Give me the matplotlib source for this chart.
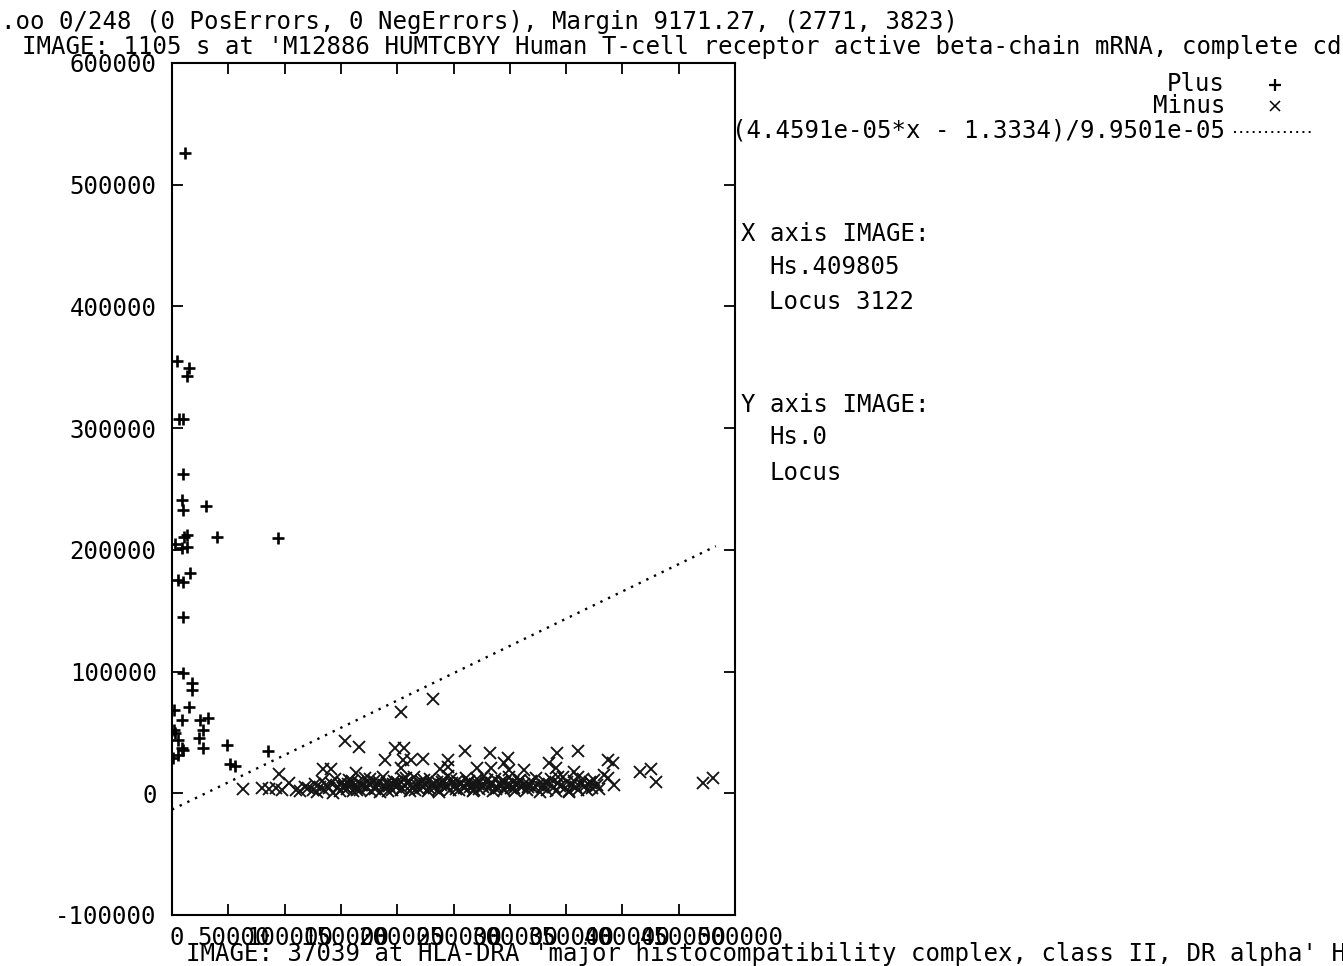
import matplotlib
matplotlib.use("Agg")
import matplotlib.pyplot as plt
import matplotlib.transforms as mtransforms
from matplotlib.lines import Line2D
import numpy as np

# ---------------- data ----------------
plus_x = [11566, 4448, 15125, 13345, 6228, 9787, 9787, 8897, 9787, 30249,
          13345, 10676, 2669, 13345, 8897, 40036, 94306, 16014, 9787, 5338,
          9787, 9787, 17794, 17794, 15125, 1779, 8897, 24911, 32029, 1779,
          2669, 27580, 5338, 8897, 9787, 24021, 27580, 890, 5338, 48932,
          85409, 51601, 56050]
plus_y = [526000, 355300, 349600, 343000, 307600, 307600, 262400, 240800, 232600, 235900,
          211800, 210400, 204700, 202200, 201400, 210400, 209600, 180800, 173400, 175100,
          144700, 98600, 90400, 84700, 70700, 68200, 60000, 60000, 61600, 51800,
          49300, 51800, 43600, 37000, 35300, 45200, 37000, 28800, 31200, 39500,
          34500, 23800, 22200]

minus_x_k = [
    # sparse left part
    63, 80, 86, 92, 95, 98, 104, 110, 114, 118, 121,
    # outliers above the band
    134, 141, 154, 166, 163, 189.5, 198, 206, 203, 203, 205, 212, 223, 232, 238, 245,
    245, 260, 271, 283, 282, 294.5, 298, 299, 313, 335, 341, 341.6, 342.5, 356.8, 360.3,
    361, 352.3, 330.1, 315.8, 372, 383.4, 387, 387, 392, 392.4, 416, 425, 430, 471.5, 480.4,
    # dense band, first pass
    125, 127, 129, 131, 133, 135, 137, 139, 141, 143, 145, 147, 149, 151, 153, 155, 157,
    159, 161, 163, 165, 167, 169, 171, 173, 175, 177, 179, 181, 183, 185, 187, 189, 191,
    193, 195, 197, 199, 201, 203, 205, 207, 209, 211, 213, 215, 217, 219, 221, 223, 225,
    227, 229, 231, 233, 235, 237, 239, 241, 243, 245, 247, 249, 251, 253, 255, 257, 259,
    261, 263, 265, 267, 269, 271, 273, 275, 277, 279, 281, 283, 285, 287, 289, 291, 293,
    295, 297, 299, 301, 303, 305, 307, 309, 311, 313, 315, 317, 319, 321, 323, 325, 327,
    329, 331, 333, 335, 337, 339, 341, 343, 345, 347, 349, 351, 353, 355, 357, 359, 361,
    363, 365, 367, 369, 371, 373, 375, 377, 379,
    # dense band, second pass
    152, 156, 160, 164, 168, 172, 176, 180, 184, 188, 192, 196, 200, 204, 208, 212, 216,
    220, 224, 228, 232, 236, 240, 244, 248, 252, 256, 260, 264, 268, 272, 276, 280, 284,
    288, 292, 296, 300, 304, 308,
]
minus_y_k = [
    3.3, 4.0, 3.5, 4.5, 15.6, 2.5, 8.5, 3.0, 2.0, 5.5, 4.0,
    19.7, 19.7, 42.7, 37.8, 16.4, 27.1, 37.0, 37.0, 66.6, 20.5, 27.1, 27.1, 28.0, 77.3, 19.7, 27.1,
    22.0, 34.5, 20.5, 20.5, 32.9, 24.7, 28.8, 18.9, 18.9, 24.7, 20.5, 32.9, 13.1, 17.3, 13.1,
    34.5, 0.8, 6.6, 4.9, 8.2, 14.8, 27.1, 12.3, 24.7, 6.6, 17.3, 19.7, 9.0, 8.2, 12.3,
    3.0, 7.5, 1.0, 5.5, 10.0, 2.5, 6.5, 4.0, 8.5, 0.5, 12.0, 5.0, 2.0, 9.0, 6.0, 3.5, 11.0,
    7.0, 1.5, 5.0, 9.5, 3.0, 6.5, 12.5, 4.5, 8.0, 2.0, 10.5, 5.5, 7.5, 1.0, 13.0, 4.0, 8.5,
    6.0, 2.5, 10.0, 5.0, 7.0, 3.0, 11.5, 6.0, 9.0, 1.5, 4.5, 13.5, 7.5, 3.5, 10.0, 5.5, 8.0,
    2.0, 12.0, 6.5, 4.0, 9.5, 1.0, 7.0, 11.0, 5.0, 14.0, 3.0, 8.5, 6.0, 10.5, 2.5, 7.5, 4.5,
    12.5, 9.0, 5.5, 1.5, 8.0, 11.5, 3.5, 6.5, 14.5, 9.5, 4.0, 7.0, 2.0, 12.0, 5.5, 8.5, 10.0,
    3.0, 6.0, 13.0, 4.5, 9.0, 1.5, 7.5, 11.0, 5.0, 8.0, 2.5, 6.5, 10.5, 4.0, 12.5, 7.0, 1.0,
    5.5, 9.0, 3.0, 7.5, 11.5, 5.0, 2.0, 8.5, 6.0, 13.0, 4.0, 9.5, 1.5, 7.0, 10.5, 5.5, 3.0,
    8.0, 12.0, 6.0, 2.5, 9.0, 4.5, 11.0, 7.0, 3.5,
    4.0, 8.0, 10.5, 2.5, 7.0, 5.0, 11.5, 3.5, 9.0, 6.5, 1.5, 7.5, 9.5, 4.5, 12.5, 6.5, 3.0,
    8.0, 11.0, 4.5, 7.5, 2.5, 9.5, 6.0, 12.0, 3.5, 8.5, 5.5, 10.5, 2.5, 7.5, 5.0, 11.0, 8.5,
    3.5, 6.0, 9.5, 7.0, 4.0, 10.0,
]
minus_x = [v * 1000 for v in minus_x_k]
minus_y = [v * 1000 for v in minus_y_k]

# decision line  (a*x - b)/c
line_a = 4.4591e-05
line_b = 1.3334
line_c = 9.9501e-05
line_x_range = [0, 483000]

xtick_vals = [0, 50000, 100000, 150000, 200000, 250000, 300000, 350000, 400000, 450000, 500000]
xtick_labels = ["0", "50000", "100000", "150000", "200000", "250000", "300000",
                "350000", "400000", "450000", "500000"]
ytick_vals = [-100000, 0, 100000, 200000, 300000, 400000, 500000, 600000]
ytick_labels = ["-100000", "0", "100000", "200000", "300000", "400000", "500000", "600000"]

title_line1 = ".oo 0/248 (0 PosErrors, 0 NegErrors), Margin 9171.27, (2771, 3823)"
title_line2 = "IMAGE: 1105 s at 'M12886 HUMTCBYY Human T-cell receptor active beta-chain mRNA, complete cds"
bottom_line = "IMAGE: 37039 at HLA-DRA 'major histocompatibility complex, class II, DR alpha' Homo sapiens"
legend_labels = ["Plus", "Minus", "(4.4591e-05*x - 1.3334)/9.9501e-05"]
side_texts = [("X axis IMAGE:", 0), ("Hs.409805", 1), ("Locus 3122", 1),
              ("Y axis IMAGE:", 0), ("Hs.0", 1), ("Locus", 1)]

# ---------------- figure ----------------
W, H = 1343, 966
FONT = "DejaVu Sans Mono"
FS = 17.3
plt.rcParams["font.family"] = [FONT, "DejaVu Sans"]

fig = plt.figure(figsize=(W / 100, H / 100), dpi=100)
fig.patch.set_facecolor("white")


def fx(px):
    return px / W


def fy(py):
    return 1 - py / H


L, R, T, B = 172, 735, 63, 915
ax = fig.add_axes([fx(L), fy(B), fx(R) - fx(L), fy(T) - fy(B)])
ax.set_xlim(0, 500000)
ax.set_ylim(-100000, 600000)

ax.plot(plus_x, plus_y, linestyle="none", marker="+", markersize=9,
        markeredgewidth=1.9, color="black")
ax.plot(minus_x, minus_y, linestyle="none", marker="x", markersize=8.5,
        markeredgewidth=1.35, color="#141414")

lx = np.array(line_x_range, dtype=float)
ly = (line_a * lx - line_b) / line_c
ax.plot(lx, ly, color="black", linewidth=1.7, linestyle=(0, (1.0, 2.6)))

for sp in ax.spines.values():
    sp.set_linewidth(1.5)
    sp.set_color("black")

ax.set_xticks(xtick_vals)
ax.set_yticks(ytick_vals, ytick_labels)
ax.tick_params(direction="in", length=8, width=1.3, top=True, right=True,
               labelbottom=False, labelsize=FS, pad=11)
for lab in ax.get_yticklabels():
    lab.set_fontfamily(FONT)

# x tick labels (centered a bit right of the tick, like the original)
xt = mtransforms.blended_transform_factory(ax.transData, fig.transFigure)
off = mtransforms.ScaledTranslation(5 / 100, 0, fig.dpi_scale_trans)
for v, s in zip(xtick_vals, xtick_labels):
    fig.text(v, fy(945), s, transform=xt + off, ha="center", va="baseline",
             fontsize=FS, family=FONT)

# titles
fig.text(fx(1), fy(29), title_line1, ha="left", va="baseline", fontsize=FS, family=FONT)
fig.text(fx(22), fy(54), title_line2, ha="left", va="baseline", fontsize=FS, family=FONT)
fig.text(fx(186), fy(961), bottom_line, ha="left", va="baseline", fontsize=FS, family=FONT)

# legend
leg_base = [91, 113, 138]
for s, b in zip(legend_labels, leg_base):
    fig.text(fx(1225), fy(b), s, ha="right", va="baseline", fontsize=FS, family=FONT)
fig.add_artist(Line2D([fx(1275)], [fy(85)], marker="+", markersize=9,
                      markeredgewidth=1.6, color="black", linestyle="none"))
fig.add_artist(Line2D([fx(1275)], [fy(106)], marker="x", markersize=7,
                      markeredgewidth=1.1, color="black", linestyle="none"))
fig.add_artist(Line2D([fx(1234), fx(1312)], [fy(132), fy(132)], color="black",
                      linewidth=1.4, linestyle=(0, (1.0, 2.2))))

# side annotation
side_base = [241, 274, 309, 412, 444, 480]
for (s, indent), b in zip(side_texts, side_base):
    xpx = 741 if indent == 0 else 769
    fig.text(fx(xpx), fy(b), s, ha="left", va="baseline", fontsize=FS, family=FONT)

fig.savefig("out.png", dpi=100, facecolor="white")
